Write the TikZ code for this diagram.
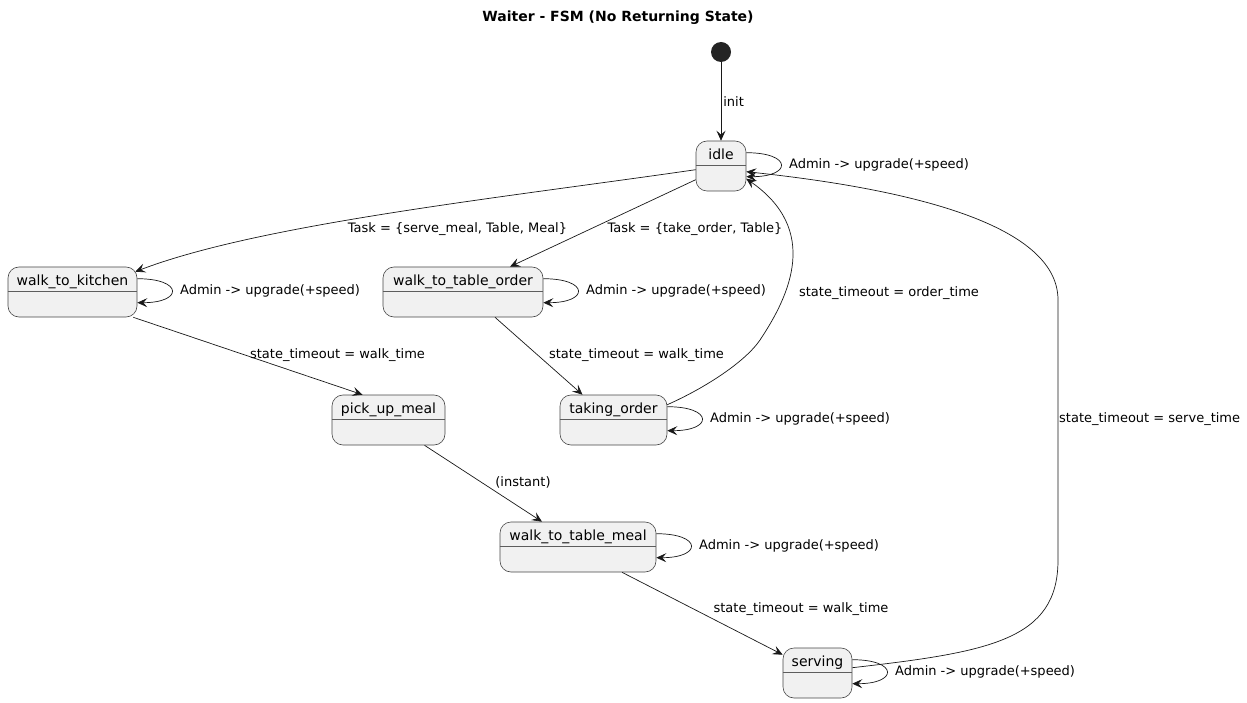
\documentclass[tikz,border=0pt]{standalone}
\usepackage{fontspec}
\setmainfont{DejaVu Sans}
\usetikzlibrary{arrows.meta}
\definecolor{stfill}{HTML}{F1F1F1}
\definecolor{stline}{HTML}{181818}
\begin{document}
\begin{tikzpicture}[x=1pt,y=-1pt,
  font=\fontsize{13}{15}\selectfont,
  st/.style={draw=stline!80, fill=stfill, rounded corners=11pt, line width=0.6pt,
    font=\fontsize{14}{16}\selectfont,
    inner xsep=0pt, inner ysep=4pt, text height=14.5pt, text depth=27.5pt},
  arr/.style={draw=stline, line width=0.7pt, -{Stealth[length=10pt,width=9pt,inset=4pt]}},
  lab/.style={inner sep=0pt, anchor=west},
  clab/.style={inner sep=0pt}]
\useasboundingbox (0,0) rectangle (1247,703);

\node[font=\fontsize{14}{16}\selectfont\bfseries] (title) at (618,18) {Waiter - FSM (No Returning State)};

\node[circle, fill=stline!95, minimum size=20pt, inner sep=0pt] (start) at (721,52) {};

\node[st, minimum width=50pt]  (idle) at (721,166) {idle};
\node[st, minimum width=129pt] (wtk)  at (72.5,292) {walk\_to\_kitchen};
\node[st, minimum width=160pt] (wtto) at (463,292) {walk\_to\_table\_order};
\node[st, minimum width=113pt] (pum)  at (388.5,420) {pick\_up\_meal};
\node[st, minimum width=107pt] (to)   at (613.5,420) {taking\_order};
\node[st, minimum width=156pt] (wttm) at (578,547) {walk\_to\_table\_meal};
\node[st, minimum width=69pt]  (srv)  at (817.5,673) {serving};

\foreach \n in {idle,wtk,wtto,pum,to,wttm,srv}{
  \draw[stline!70, line width=0.6pt] ([yshift=-25pt]\n.north west) -- ([yshift=-25pt]\n.north east);
}

% self loops
\foreach \n in {idle,wtk,wtto,to,wttm,srv}{
  \draw[arr] ([yshift=-12pt]\n.north east) .. controls +(46,0) and +(46,0) .. ([yshift=-36pt]\n.north east)
    node[pos=0.5, lab, xshift=8pt] {Admin -> upgrade(+speed)};
}

% transitions
\draw[arr] (start) -- (idle.north) node[pos=0.5, lab, xshift=2pt] {init};

\draw[arr] ([yshift=-29pt]idle.north west) .. controls (500,198) and (260,224) .. ([xshift=-2pt,yshift=-5pt]wtk.north east);
\node[clab] (l1) at (457.5,229) {Task = \{serve\_meal, Table, Meal\}};

\draw[arr] ([yshift=-39pt]idle.north west) -- ([xshift=47pt]wtto.north);
\node[clab] (l2) at (695,229) {Task = \{take\_order, Table\}};

\draw[arr] ([xshift=-4pt]wtk.south east) -- ([xshift=-26pt]pum.north);
\node[clab] (l3) at (337.5,355) {state\_timeout = walk\_time};

\draw[arr] ([xshift=32pt]wtto.south) -- ([xshift=-31pt]to.north);
\node[clab] (l4) at (636.5,355) {state\_timeout = walk\_time};

\draw[arr] ([yshift=-10pt]to.north east) .. controls (705,388) and (745,362) .. (760,340)
   .. controls (790,295) and (820,230) .. ([yshift=-38pt]idle.north east);
\node[clab] (l5) at (889,293) {state\_timeout = order\_time};

\draw[arr] ([xshift=36pt]pum.south) -- ([xshift=-36pt]wttm.north);
\node[clab] (l6) at (523,482) {(instant)};

\draw[arr] ([xshift=44pt]wttm.south) -- ([yshift=-7pt]srv.north west);
\node[clab] (l7) at (801,609) {state\_timeout = walk\_time};

\draw[arr] ([yshift=-20pt]srv.north east) .. controls (990,652) and (1058,640) .. (1058,560)
   -- (1058,300) .. controls (1058,222) and (900,188) .. ([yshift=-31pt]idle.north east);
\node[lab] (l8) at (1059,419) {state\_timeout = serve\_time};
\end{tikzpicture}
\end{document}
